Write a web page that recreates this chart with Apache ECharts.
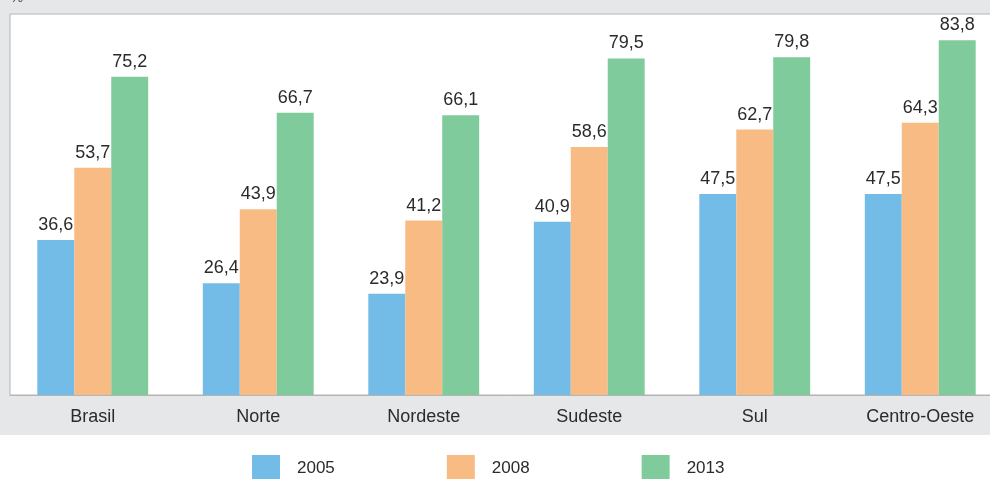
<!DOCTYPE html>
<html><head><meta charset="utf-8">
<script src="https://cdn.jsdelivr.net/npm/echarts@6/dist/echarts.min.js"></script>
<style>html,body{margin:0;padding:0;background:#fff;overflow:hidden;width:990px;height:479px}#c{width:1004px;height:479px}</style>
</head><body><div id="c"></div>
<script>
const categories = ['Brasil','Norte','Nordeste','Sudeste','Sul','Centro-Oeste'];
const seriesNames = ['2005','2008','2013'];
const v2005 = [36.6, 26.4, 23.9, 40.9, 47.5, 47.5];
const v2008 = [53.7, 43.9, 41.2, 58.6, 62.7, 64.3];
const v2013 = [75.2, 66.7, 66.1, 79.5, 79.8, 83.8];
const colors = ['#74bce8', '#f9bb84', '#80cb9c'];
const FONT = '"Liberation Sans", Arial, sans-serif';
const chart = echarts.init(document.getElementById('c'));
const mk = (name, data, color) => ({
  name, type: 'bar', data, barGap: '0%', barCategoryGap: '33%',
  itemStyle: { color },
  label: { show: true, position: 'top', distance: 6, color: '#2b2b2b', fontSize: 18, fontFamily: FONT,
    formatter: p => p.value.toFixed(1).replace('.', ',') }
});
chart.setOption({
  backgroundColor: '#e6e7e9',
  animation: false,
  graphic: [
    { type: 'rect', shape: { x: 0, y: 435, width: 1004, height: 44 }, style: { fill: '#ffffff' }, z: -1 },
    { type: 'text', left: 10, top: -10, style: { text: '%', fontSize: 15, fill: '#555', fontFamily: FONT } }
  ],
  grid: { left: 10, top: 14, right: 1, bottom: 84, show: true, backgroundColor: '#ffffff', borderColor: '#b4b4b4', borderWidth: 1 },
  legend: {
    data: seriesNames, left: 252, top: 455, padding: 0, itemWidth: 28, itemHeight: 26, itemGap: 112,
    icon: 'rect',
    textStyle: { fontSize: 17, color: '#2b2b2b', fontFamily: FONT, width: 40, padding: [0, 0, 0, 12] }
  },
  xAxis: {
    type: 'category', data: categories,
    axisLine: { show: true, lineStyle: { color: '#b4b4b4' } }, axisTick: { show: false },
    axisLabel: { fontSize: 18, color: '#2b2b2b', fontFamily: FONT, margin: 13 }
  },
  yAxis: { type: 'value', min: 0, max: 90, show: false, splitLine: { show: false } },
  series: [mk(seriesNames[0], v2005, colors[0]), mk(seriesNames[1], v2008, colors[1]), mk(seriesNames[2], v2013, colors[2])]
});
</script></body></html>
